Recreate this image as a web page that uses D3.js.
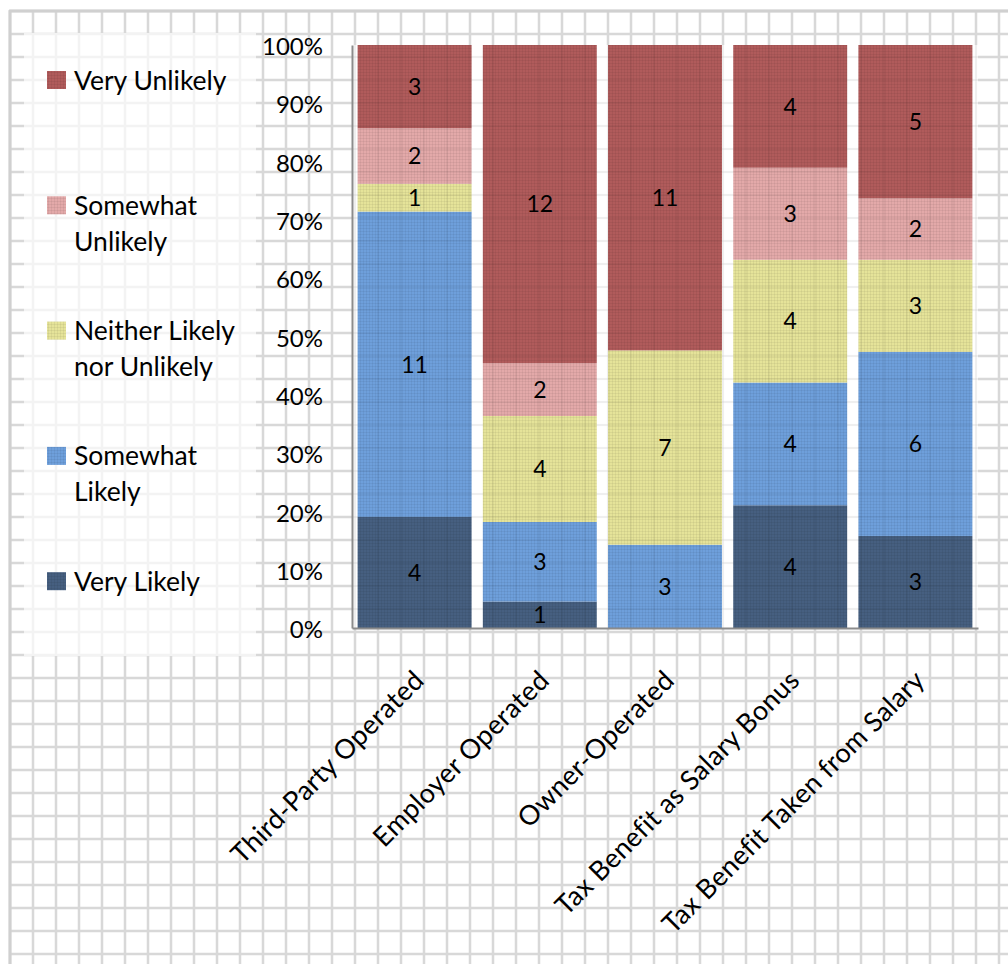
<!DOCTYPE html>
<html>
<head>
<meta charset="utf-8">
<script src="https://cdn.jsdelivr.net/npm/d3@7"></script>
<style>
  body { margin: 0; background: #fff; }
  svg { display: block; font-family: Lato, "Open Sans", sans-serif; }
</style>
</head>
<body>
<svg width="1008" height="964"></svg>
<script>
var width = 1008,
    height = 964;

// data
var categories = ["Third-Party Operated", "Employer Operated", "Owner-Operated",
                  "Tax Benefit as Salary Bonus", "Tax Benefit Taken from Salary"];
var seriesNames = ["Very Likely", "Somewhat Likely", "Neither Likely nor Unlikely",
                   "Somewhat Unlikely", "Very Unlikely"];
var veryLikely       = [4, 1, 0, 4, 3];
var somewhatLikely   = [11, 3, 3, 4, 6];
var neither          = [1, 4, 7, 4, 3];
var somewhatUnlikely = [2, 2, 0, 3, 2];
var veryUnlikely     = [3, 12, 11, 4, 5];
var yTicks = [0, 0.1, 0.2, 0.3, 0.4, 0.5, 0.6, 0.7, 0.8, 0.9, 1.0];

var legendLines = {
    "Very Unlikely": ["Very Unlikely"],
    "Somewhat Unlikely": ["Somewhat", "Unlikely"],
    "Neither Likely nor Unlikely": ["Neither Likely", "nor Unlikely"],
    "Somewhat Likely": ["Somewhat", "Likely"],
    "Very Likely": ["Very Likely"]
};
var colors = {
    "Very Likely": "#465f80",
    "Somewhat Likely": "#6e9fdb",
    "Neither Likely nor Unlikely": "#e5e399",
    "Somewhat Unlikely": "#e3a9a9",
    "Very Unlikely": "#b05b5b"
};

var seriesValues = [veryLikely, somewhatLikely, neither, somewhatUnlikely, veryUnlikely];
var table = categories.map(function(c, i) {
    var row = {category: c};
    seriesNames.forEach(function(s, j) { row[s] = seriesValues[j][i]; });
    return row;
});

var svg = d3.select("svg");

///////////////////////
//
// Background grid
//
///////////////////////

var grid = svg.append("g");
grid.selectAll(".vline")
    .data(d3.range(10, width, 23))
    .enter().append("line")
    .attr("x1", function(d) { return d; })
    .attr("x2", function(d) { return d; })
    .attr("y1", 11).attr("y2", height)
    .attr("stroke", "#d8d8d8").attr("stroke-width", 2.5);
grid.selectAll(".hline")
    .data(d3.range(11, height, 23))
    .enter().append("line")
    .attr("y1", function(d) { return d; })
    .attr("y2", function(d) { return d; })
    .attr("x1", 10).attr("x2", width)
    .attr("stroke", "#d8d8d8").attr("stroke-width", 2.5);
grid.append("line").attr("x1", 10).attr("x2", 10).attr("y1", 10).attr("y2", height)
    .attr("stroke", "#d0d0d0").attr("stroke-width", 3);
grid.append("line").attr("x1", 9).attr("x2", width).attr("y1", 11).attr("y2", 11)
    .attr("stroke", "#d0d0d0").attr("stroke-width", 3);

// legend panel (semi transparent)
svg.append("rect").attr("x", 24).attr("y", 33).attr("width", 232).attr("height", 623)
    .attr("fill", "#fff").attr("opacity", 0.7);

var margin = {left: 352, right: 30, top: 45, bottom: 336};
var x = d3.scaleBand()
    .domain(categories)
    .range([margin.left, width - margin.right])
    .paddingInner(0.09)
    .paddingOuter(0.045);
var y = d3.scaleLinear()
    .domain([0, 1])
    .range([height - margin.bottom, margin.top]);

// plot area (semi transparent)
svg.append("rect")
    .attr("x", margin.left).attr("y", margin.top)
    .attr("width", width - margin.right - margin.left)
    .attr("height", y(0) - margin.top)
    .attr("fill", "#fff").attr("opacity", 0.86);

///////////////////////
//
// Bars
//
///////////////////////

var stack = d3.stack().keys(seriesNames).offset(d3.stackOffsetExpand);
var layers = stack(table);

var defs = svg.append("defs");
var pat = defs.append("pattern").attr("id", "tex")
    .attr("width", 3).attr("height", 3).attr("patternUnits", "userSpaceOnUse");
pat.append("rect").attr("width", 3).attr("height", 1).attr("fill", "#000").attr("opacity", 0.05);
pat.append("rect").attr("width", 1).attr("height", 3).attr("fill", "#000").attr("opacity", 0.05);

var barG = svg.append("g");
layers.forEach(function(layer) {
    barG.selectAll(".bar-" + layer.index)
        .data(layer)
        .enter().append("rect")
        .attr("x", function(d) { return x(d.data.category); })
        .attr("y", function(d) { return y(d[1]); })
        .attr("width", x.bandwidth())
        .attr("height", function(d) { return y(d[0]) - y(d[1]); })
        .attr("fill", colors[layer.key]);
    barG.selectAll(".tex-" + layer.index)
        .data(layer)
        .enter().append("rect")
        .attr("x", function(d) { return x(d.data.category); })
        .attr("y", function(d) { return y(d[1]); })
        .attr("width", x.bandwidth())
        .attr("height", function(d) { return y(d[0]) - y(d[1]); })
        .attr("fill", "url(#tex)");
});

// faint grid showing through the plot area
svg.append("clipPath").attr("id", "plotclip").append("rect")
    .attr("x", margin.left).attr("y", margin.top)
    .attr("width", width - margin.right - margin.left)
    .attr("height", y(0) - margin.top);
var thru = svg.append("g").attr("clip-path", "url(#plotclip)");
thru.selectAll(".tv").data(d3.range(10, width, 23)).enter().append("line")
    .attr("x1", function(d) { return d; }).attr("x2", function(d) { return d; })
    .attr("y1", 0).attr("y2", height)
    .attr("stroke", "#000").attr("stroke-opacity", 0.045).attr("stroke-width", 2);
thru.selectAll(".th").data(d3.range(11, height, 23)).enter().append("line")
    .attr("y1", function(d) { return d; }).attr("y2", function(d) { return d; })
    .attr("x1", 0).attr("x2", width)
    .attr("stroke", "#000").attr("stroke-opacity", 0.045).attr("stroke-width", 2);

// value labels
layers.forEach(function(layer) {
    barG.selectAll(".lbl-" + layer.index)
        .data(layer.filter(function(d) { return d.data[layer.key] > 0; }))
        .enter().append("text")
        .attr("x", function(d) { return x(d.data.category) + x.bandwidth() / 2; })
        .attr("y", function(d) { return (y(d[0]) + y(d[1])) / 2; })
        .attr("dy", "0.36em")
        .attr("text-anchor", "middle")
        .attr("font-size", 23)
        .attr("fill", "#000")
        .text(function(d) { return d.data[layer.key]; });
});

///////////////////////
//
// Axes
//
///////////////////////

var yAxis = svg.append("g")
    .attr("transform", "translate(" + margin.left + ",0)")
    .call(d3.axisLeft(y).tickValues(yTicks).tickSize(0).tickPadding(29)
        .tickFormat(d3.format(".0%")));
yAxis.select(".domain").attr("stroke", "#8c8c8c").attr("stroke-width", 2);
yAxis.selectAll("text").attr("font-size", 24).attr("fill", "#000")
    .attr("font-family", "Lato, sans-serif").attr("dy", "0.4em");

var xAxis = svg.append("g")
    .attr("transform", "translate(0," + y(0) + ")")
    .call(d3.axisBottom(x).tickSize(0));
xAxis.select(".domain").attr("stroke", "#8c8c8c").attr("stroke-width", 2);
xAxis.selectAll("text")
    .attr("font-size", 27).attr("fill", "#000")
    .attr("font-family", "Lato, sans-serif")
    .attr("letter-spacing", 0.3)
    .attr("text-anchor", "end")
    .attr("dy", 0)
    .attr("y", 0)
    .attr("transform", "translate(11,54) rotate(-45)");

///////////////////////
//
// Legend
//
///////////////////////

var legendOrder = seriesNames.slice().reverse();
var legend = svg.append("g");
legendOrder.forEach(function(name, i) {
    var cy = 80 + i * 125.3;
    legend.append("rect")
        .attr("x", 47).attr("y", cy - 9)
        .attr("width", 19).attr("height", 18)
        .attr("fill", colors[name]);
    legend.append("rect")
        .attr("x", 47).attr("y", cy - 9)
        .attr("width", 19).attr("height", 18)
        .attr("fill", "url(#tex)");
    legendLines[name].forEach(function(line, k) {
        legend.append("text")
            .attr("x", 74)
            .attr("y", cy + k * 36)
            .attr("dy", "0.36em")
            .attr("font-size", 26.5)
            .attr("fill", "#000")
            .text(line);
    });
});
</script>
</body>
</html>
